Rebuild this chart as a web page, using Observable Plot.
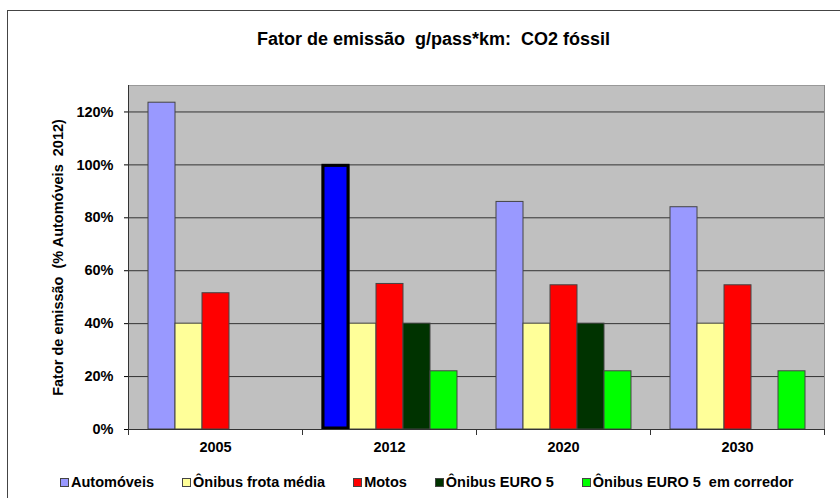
<!DOCTYPE html>
<html><head><meta charset="utf-8">
<script src="https://cdn.jsdelivr.net/npm/d3@7"></script>
<script src="https://cdn.jsdelivr.net/npm/@observablehq/plot@0.6"></script>
<style>
body{margin:0;background:#fff;font-family:"Liberation Sans",Arial,sans-serif;color:#000;}
#wrap{position:relative;width:840px;height:498px;overflow:hidden;}
#frame{position:absolute;left:7px;top:10px;width:900px;height:600px;border-left:1px solid #444;border-top:1px solid #444;pointer-events:none;}
#title{height:62px;box-sizing:border-box;padding-top:30px;padding-left:27px;text-align:center;font-size:18px;font-weight:bold;line-height:18px;white-space:pre;}
#chart svg{display:block;}
#legend{display:flex;align-items:center;gap:28px;padding-left:60px;padding-top:12px;font-size:14.5px;line-height:17px;font-weight:bold;white-space:pre;}
.item{display:flex;align-items:center;}
.sw{width:7px;height:7px;border:1px solid #444;margin-right:2px;}
</style></head>
<body>
<div id="wrap">
<div id="frame"></div>
<div id="title"></div>
<div id="chart"></div>
<div id="legend"></div>
</div>
<script>
const titleText = "Fator de emissão  g/pass*km:  CO2 fóssil";
const yLabel = "Fator de emissão  (% Automóveis  2012)";
const years = ["2005", "2012", "2020", "2030"];
const series = ["Automóveis", "Ônibus frota média", "Motos", "Ônibus EURO 5", "Ônibus EURO 5  em corredor"];
const automoveis = [123.5, 100, 86, 84];
const onibusFrota = [40, 40, 40, 40];
const motos = [51.5, 55, 54.5, 54.5];
const onibusEuro5 = [null, 40, 40, null];
const onibusCorredor = [null, 22, 22, 22];
const yTicks = [0, 20, 40, 60, 80, 100, 120];
const colors = ["#9999FF", "#FFFF99", "#FF0000", "#003300", "#00FF00"];
const highlightYear = "2012", highlightSeries = "Automóveis", highlightColor = "#0000FF";

const keepSpaces = s => s.replace(/  /g, "\u00a0 ");
const seriesValues = [automoveis, onibusFrota, motos, onibusEuro5, onibusCorredor];
const rows = [];
series.forEach((s, si) => years.forEach((y, yi) => {
  const v = seriesValues[si][yi];
  if (v != null) rows.push({year: y, series: s, value: v});
}));
const hiRows = rows.filter(d => d.year === highlightYear && d.series === highlightSeries);

document.getElementById("title").textContent = titleText;

const H = 400, mt = 23, mb = 33, ml = 128, mr = 16;
const plotH = H - mt - mb;
const chart = Plot.plot({
  width: 840, height: H,
  marginTop: mt, marginBottom: mb, marginLeft: ml, marginRight: mr,
  style: {fontFamily: "Liberation Sans, Arial, sans-serif", background: "transparent", color: "#000"},
  fx: {domain: years, padding: 0, label: null},
  x: {domain: series, paddingInner: 0, paddingOuter: 0.72, axis: null},
  y: {domain: [0, 130], label: null},
  color: {domain: series, range: colors},
  marks: [
    Plot.frame({fill: "#C0C0C0", stroke: null, shapeRendering: "crispEdges"}),
    Plot.gridY(yTicks.slice(1), {stroke: "#333", strokeOpacity: 1}),
    Plot.frame({anchor: "top", stroke: "#999"}),
    Plot.frame({anchor: "right", stroke: "#888", facetAnchor: "right"}),
    Plot.barY(rows, {fx: "year", x: "series", y: "value", fill: "series", stroke: "#444", strokeWidth: 1}),
    Plot.barY(hiRows, {fx: "year", x: "series", y: "value", fill: highlightColor, stroke: "#000", strokeWidth: 3, inset: 1}),
    Plot.ruleY([0], {stroke: "#333"}),
    Plot.frame({anchor: "left", stroke: "#333", facetAnchor: "left"}),
    Plot.axisY(yTicks, {tickFormat: d => d + "%", tickSize: 4, tickPadding: 11, fontSize: 14.5, fontWeight: "bold",
      label: keepSpaces(yLabel), labelAnchor: "center", labelOffset: 76, labelArrow: "none"}),
    Plot.axisFx({anchor: "bottom", tickSize: 0, tickPadding: 12, fontSize: 14.5, fontWeight: "bold", label: null}),
    Plot.frame({anchor: "left", insetTop: plotH, insetBottom: -5, stroke: "#333"}),
    Plot.frame({anchor: "right", insetTop: plotH, insetBottom: -5, stroke: "#333", facetAnchor: "right"})
  ]
});
document.getElementById("chart").appendChild(chart);

const legend = document.getElementById("legend");
series.forEach((s, i) => {
  const it = document.createElement("div"); it.className = "item";
  const sw = document.createElement("div"); sw.className = "sw"; sw.style.background = colors[i];
  const tx = document.createElement("span"); tx.textContent = s;
  it.appendChild(sw); it.appendChild(tx); legend.appendChild(it);
});
</script>
</body></html>
